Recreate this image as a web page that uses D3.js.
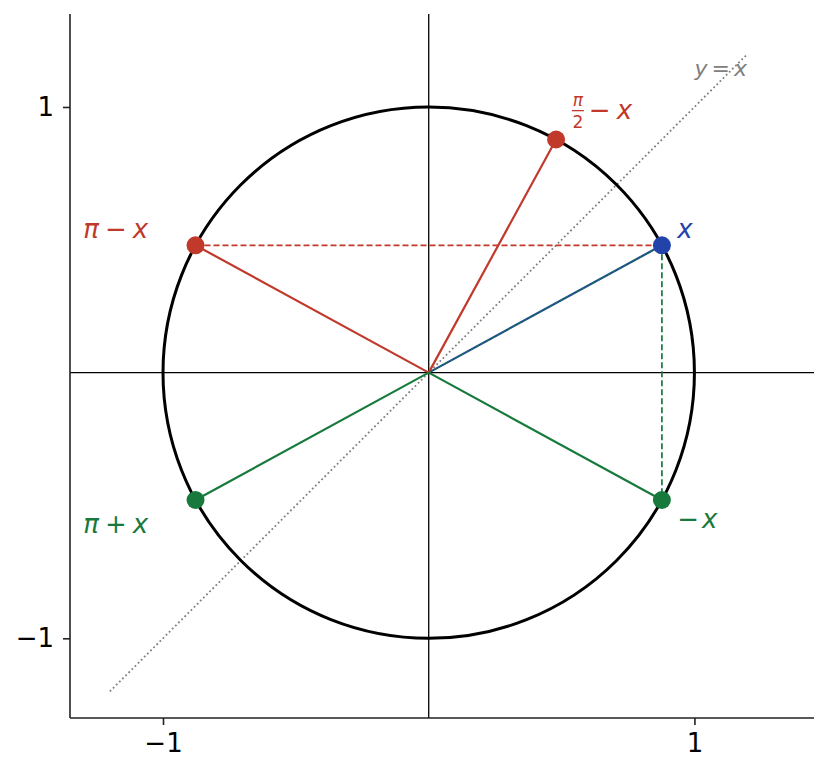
<!DOCTYPE html>
<html>
<head>
<meta charset="utf-8">
<script src="https://cdn.jsdelivr.net/npm/d3@7"></script>
<style>
  body { margin: 0; background: #fff; }
  svg text { font-family: "DejaVu Sans", sans-serif; }
</style>
</head>
<body>
<div id="chart"></div>
<script>

// angles (radians) of the marked points on the unit circle, x = 0.5
var pointNames  = ["x", "pi/2 - x", "pi - x", "pi + x", "-x"];
var pointAngles = [0.5, 1.0708, 2.6416, 3.6416, -0.5];
var pointColors = ["#2244aa", "#c0392b", "#c0392b", "#177a3c", "#177a3c"];
var rayColors   = ["#1f4c96", "#c0392b", "#c0392b", "#177a3c", "#177a3c"];

// label anchors in data coordinates
var labelX = [0.935, 0.535, -1.30, -1.30, 0.935];
var labelY = [0.54, 0.99, 0.54, -0.57, -0.55];

// y = x reference line extent
var diagX = [-1.2, 1.2];

var xTicks = [-1, 1];
var yTicks = [-1, 1];
var xDomain = [-1.35, 1.45];
var yDomain = [-1.3, 1.35];

var W = 828, H = 775;
var margin = { top: 14, right: 14, bottom: 57, left: 70 };
var width = W - margin.left - margin.right,
    height = H - margin.top - margin.bottom;

var svg = d3.select("#chart").append("svg")
    .attr("width", W)
    .attr("height", H)
  .append("g")
    .attr("transform", "translate(" + margin.left + "," + margin.top + ")");

var x = d3.scaleLinear().domain(xDomain).range([0, width]);
var y = d3.scaleLinear().domain(yDomain).range([height, 0]);

// axis lines through origin
svg.append("line")
    .attr("x1", 0).attr("x2", width)
    .attr("y1", y(0)).attr("y2", y(0))
    .attr("stroke", "#000").attr("stroke-width", 1.3);
svg.append("line")
    .attr("x1", x(0)).attr("x2", x(0))
    .attr("y1", 0).attr("y2", height)
    .attr("stroke", "#000").attr("stroke-width", 1.3);

// y = x dotted
svg.append("line")
    .attr("x1", x(diagX[0])).attr("y1", y(diagX[0]))
    .attr("x2", x(diagX[1])).attr("y2", y(diagX[1]))
    .attr("stroke", "#808080").attr("stroke-width", 1.8)
    .attr("stroke-dasharray", "1.8,2.6");

// unit circle
svg.append("ellipse")
    .attr("cx", x(0)).attr("cy", y(0))
    .attr("rx", x(1) - x(0)).attr("ry", y(0) - y(1))
    .attr("fill", "none").attr("stroke", "#000").attr("stroke-width", 3);

var pts = pointAngles.map(function(a, i) {
    return { name: pointNames[i], cx: Math.cos(a), cy: Math.sin(a), color: pointColors[i], ray: rayColors[i] };
});

// rays from origin
svg.selectAll(".ray")
    .data(pts)
  .enter().append("line")
    .attr("class", "ray")
    .attr("x1", x(0)).attr("y1", y(0))
    .attr("x2", function(d) { return x(d.cx); })
    .attr("y2", function(d) { return y(d.cy); })
    .attr("stroke", function(d) { return d.ray; })
    .attr("stroke-width", 2.2);

var px = pts[0], pPi = pts[2], pNeg = pts[4];

// green dashes over the x ray
svg.append("line")
    .attr("x1", x(0)).attr("y1", y(0))
    .attr("x2", x(px.cx)).attr("y2", y(px.cy))
    .attr("stroke", "#177a3c").attr("stroke-width", 1.1)
    .attr("stroke-dasharray", "3,3");

// reflection dashes
svg.append("line")
    .attr("x1", x(pPi.cx)).attr("y1", y(pPi.cy))
    .attr("x2", x(px.cx)).attr("y2", y(px.cy))
    .attr("stroke", "#c0392b").attr("stroke-width", 1.7)
    .attr("stroke-dasharray", "6,3");
svg.append("line")
    .attr("x1", x(px.cx)).attr("y1", y(px.cy))
    .attr("x2", x(pNeg.cx)).attr("y2", y(pNeg.cy))
    .attr("stroke", "#177a3c").attr("stroke-width", 1.7)
    .attr("stroke-dasharray", "6,3");

// points
svg.selectAll(".pt")
    .data(pts)
  .enter().append("circle")
    .attr("class", "pt")
    .attr("cx", function(d) { return x(d.cx); })
    .attr("cy", function(d) { return y(d.cy); })
    .attr("r", 9)
    .attr("fill", function(d) { return d.color; });

// labels
function mathLabel(i, parts) {
    var t = svg.append("text")
        .attr("x", x(labelX[i])).attr("y", y(labelY[i]))
        .attr("dy", "0.35em")
        .attr("font-size", 26)
        .attr("fill", pointColors[i]);
    parts.forEach(function(p) {
        t.append("tspan")
            .attr("dx", p.dx || 0)
            .attr("font-style", p.it ? "italic" : "normal")
            .text(p.s);
    });
    return t;
}

mathLabel(0, [{ s: "x", it: true }]);
mathLabel(2, [{ s: "π", it: true }, { s: "−", dx: 6 }, { s: "x", it: true, dx: 6 }]);
mathLabel(3, [{ s: "π", it: true }, { s: "+", dx: 6 }, { s: "x", it: true, dx: 6 }]);
mathLabel(4, [{ s: "−" }, { s: "x", it: true, dx: 3 }]);

// pi/2 - x with stacked fraction
var fx = x(labelX[1]), fy = y(labelY[1]);
var frac = svg.append("g").attr("fill", pointColors[1]);
frac.append("text")
    .attr("x", fx + 7).attr("y", fy - 4)
    .attr("text-anchor", "middle").attr("font-size", 17)
    .attr("font-style", "italic")
    .text("π");
frac.append("line")
    .attr("x1", fx + 1).attr("x2", fx + 13)
    .attr("y1", fy + 1).attr("y2", fy + 1)
    .attr("stroke", pointColors[1]).attr("stroke-width", 1.3);
frac.append("text")
    .attr("x", fx + 7).attr("y", fy + 18)
    .attr("text-anchor", "middle").attr("font-size", 17)
    .text("2");
frac.append("text")
    .attr("x", fx + 18).attr("y", fy)
    .attr("dy", "0.35em")
    .attr("font-size", 26)
    .html('<tspan>−</tspan><tspan dx="6" font-style="italic">x</tspan>');

// y = x label
svg.append("text")
    .attr("x", x(1.0)).attr("y", y(1.147))
    .attr("dy", "0.35em")
    .attr("font-size", 22)
    .attr("fill", "#808080")
    .html('<tspan font-style="italic">y</tspan><tspan dx="4">=</tspan><tspan dx="4" font-style="italic">x</tspan>');

// spines & ticks
var fmt = function(d) { return d < 0 ? "−" + Math.abs(d) : d; };
var xAxis = d3.axisBottom(x).tickValues(xTicks).tickSize(7).tickPadding(9).tickFormat(fmt);
var yAxis = d3.axisLeft(y).tickValues(yTicks).tickSize(7).tickPadding(9).tickFormat(fmt);

var gx = svg.append("g")
    .attr("transform", "translate(0," + height + ")")
    .call(xAxis);
var gy = svg.append("g").call(yAxis);

[gx, gy].forEach(function(g) {
    g.select(".domain").attr("stroke", "#222").attr("stroke-width", 1.6)
        .attr("d", g === gx ? "M0,0H" + width : "M0," + height + "V0");
    g.selectAll(".tick line").attr("stroke", "#222").attr("stroke-width", 1.6);
    g.selectAll(".tick text")
        .attr("font-family", "DejaVu Sans")
        .attr("font-size", 26)
        .attr("fill", "#000");
});

</script>
</body>
</html>
